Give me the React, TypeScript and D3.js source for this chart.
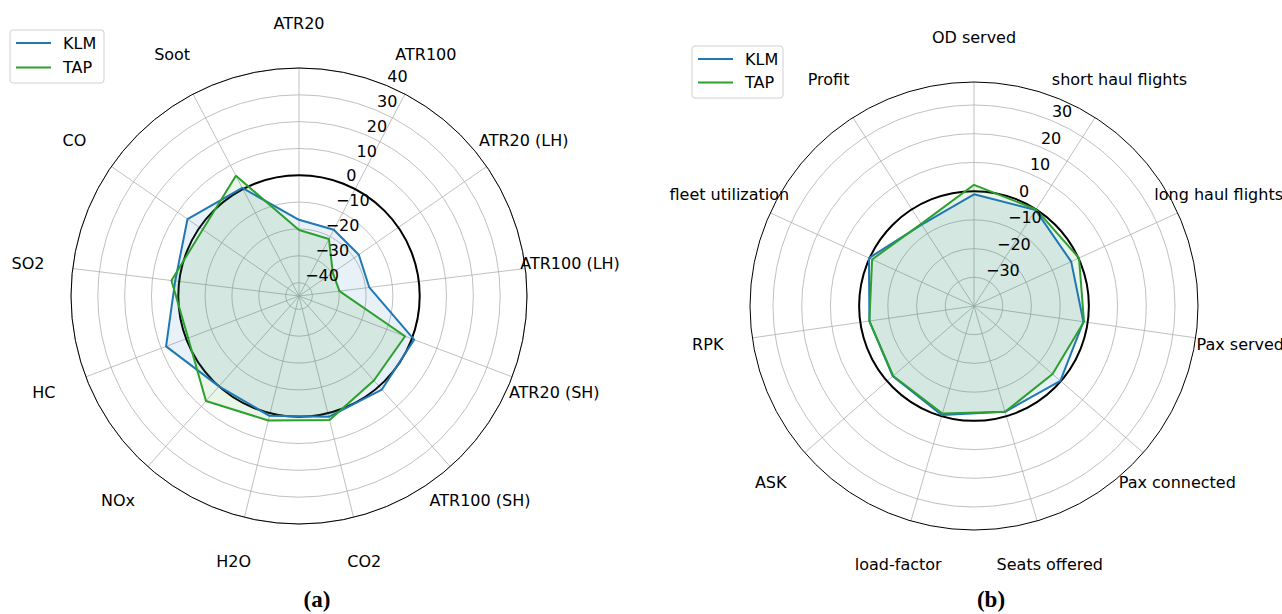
import React from "react";
import * as d3 from "d3";

// ---------- data ----------
const envCategories = [
  "ATR20", "ATR100", "ATR20 (LH)", "ATR100 (LH)", "ATR20 (SH)", "ATR100 (SH)",
  "CO2", "H2O", "NOx", "HC", "SO2", "CO", "Soot",
];
const envKLM = [-16.6, -17.1, -17.9, -18.6, 0.9, 1.6, 1.4, 1.0, 0.0, 8.0, 1.5, 5.5, 0.5];
const envTAP = [-20.4, -21.0, -29.7, -29.8, -2.7, -2.9, 2.6, 2.8, 7.3, -0.8, 2.9, -1.4, 5.6];
const envTicks = [-40, -30, -20, -10, 0, 10, 20, 30, 40];
const envDomain = [-45, 40];

const opCategories = [
  "OD served", "short haul flights", "long haul flights", "Pax served", "Pax connected",
  "Seats offered", "load-factor", "ASK", "RPK", "fleet utilization", "Profit",
];
const opKLM = [-1.1, -0.3, -2.8, -1.5, -0.2, -1.6, -0.4, -2.6, -3.2, 0.2, -6.3];
const opTAP = [2.2, 0.0, 0.2, -1.3, -3.8, -1.6, -1.0, -2.8, -3.2, -1.0, -6.0];
const opTicks = [-30, -20, -10, 0, 10, 20, 30];
const opDomain = [-40, 38];

const seriesNames = ["KLM", "TAP"];
const seriesColors = ["#1f77b4", "#2ca02c"];

const FONT = "'DejaVu Sans', sans-serif";

type RadarProps = {
  cx: number;
  cy: number;
  outerR: number;
  labelR: number;
  domain: number[];
  ticks: number[];
  categories: string[];
  series: number[][];
};

function fmt(v: number) {
  return v < 0 ? "\u2212" + Math.abs(v) : String(v);
}

function Radar({ cx, cy, outerR, labelR, domain, ticks, categories, series }: RadarProps) {
  const r = d3.scaleLinear().domain(domain).range([0, outerR]);
  const n = categories.length;
  const angle = d3.scaleLinear().domain([0, n]).range([0, 2 * Math.PI]);
  const line = d3
    .lineRadial<number>()
    .angle((_, i) => angle(i))
    .radius((d) => r(d))
    .curve(d3.curveLinearClosed);
  const tickAngle = (22.5 * Math.PI) / 180;
  return (
    <g transform={`translate(${cx},${cy})`}>
      {/* grid rings */}
      {ticks.map((t) => (
        <circle key={"ring" + t} r={r(t)} fill="none" stroke="#b0b0b0" strokeWidth={0.8} />
      ))}
      {/* spokes */}
      {categories.map((c, i) => {
        const a = angle(i);
        return (
          <line
            key={"spoke" + c}
            x1={0}
            y1={0}
            x2={outerR * Math.sin(a)}
            y2={-outerR * Math.cos(a)}
            stroke="#b0b0b0"
            strokeWidth={0.8}
          />
        );
      })}
      {/* zero line */}
      <circle r={r(0)} fill="none" stroke="#000" strokeWidth={2} />
      {/* fills */}
      {series.map((s, k) => (
        <path key={"fill" + k} d={line(s) || ""} fill={seriesColors[k]} fillOpacity={0.1} stroke="none" />
      ))}
      {/* lines */}
      {series.map((s, k) => (
        <path key={"line" + k} d={line(s) || ""} fill="none" stroke={seriesColors[k]} strokeWidth={2} strokeLinejoin="round" />
      ))}
      {/* outer spine */}
      <circle r={outerR} fill="none" stroke="#000" strokeWidth={1} />
      {/* tick labels */}
      {ticks.map((t) => (
        <text
          key={"tl" + t}
          x={r(t) * Math.sin(tickAngle) + 1}
          y={-r(t) * Math.cos(tickAngle) - 3}
          fontFamily={FONT}
          fontSize={16}
          fill="#000"
          textAnchor="start"
        >
          {fmt(t)}
        </text>
      ))}
      {/* category labels */}
      {categories.map((c, i) => {
        const a = angle(i);
        return (
          <text
            key={"cl" + c}
            x={labelR * Math.sin(a)}
            y={-labelR * Math.cos(a)}
            fontFamily={FONT}
            fontSize={16}
            fill="#000"
            textAnchor="middle"
            dominantBaseline="central"
          >
            {c}
          </text>
        );
      })}
    </g>
  );
}

function Legend({ x, y, w, h, gap }: { x: number; y: number; w: number; h: number; gap: number }) {
  return (
    <g transform={`translate(${x},${y})`}>
      <rect x={0} y={0} width={w} height={h} rx={3} fill="#fff" fillOpacity={0.8} stroke="#d0d0d0" strokeWidth={1} />
      {seriesNames.map((s, k) => (
        <g key={s} transform={`translate(0,${13 + k * gap})`}>
          <line x1={6} x2={41} y1={0} y2={0} stroke={seriesColors[k]} strokeWidth={2} />
          <text x={53} y={0} dominantBaseline="central" fontFamily={FONT} fontSize={16} fill="#000">
            {s}
          </text>
        </g>
      ))}
    </g>
  );
}

export default function App() {
  return (
    <svg
      width={1282}
      height={614}
      viewBox="0 0 1282 614"
      style={{ position: "absolute", left: 0, top: 0, background: "#fff" }}
    >
      <rect width={1282} height={614} fill="#fff" />
      <Radar
        cx={299}
        cy={296}
        outerR={228}
        labelR={273}
        domain={envDomain}
        ticks={envTicks}
        categories={envCategories}
        series={[envKLM, envTAP]}
      />
      <Radar
        cx={974}
        cy={306}
        outerR={224}
        labelR={269}
        domain={opDomain}
        ticks={opTicks}
        categories={opCategories}
        series={[opKLM, opTAP]}
      />
      <Legend x={10} y={30} w={94} h={53} gap={24.5} />
      <Legend x={692} y={46} w={91} h={52} gap={23.5} />
      <text x={317} y={607} textAnchor="middle" fontFamily="'Liberation Serif', serif" fontWeight="bold" fontSize={23} fill="#000">
        (a)
      </text>
      <text x={991} y={607} textAnchor="middle" fontFamily="'Liberation Serif', serif" fontWeight="bold" fontSize={23} fill="#000">
        (b)
      </text>
    </svg>
  );
}
